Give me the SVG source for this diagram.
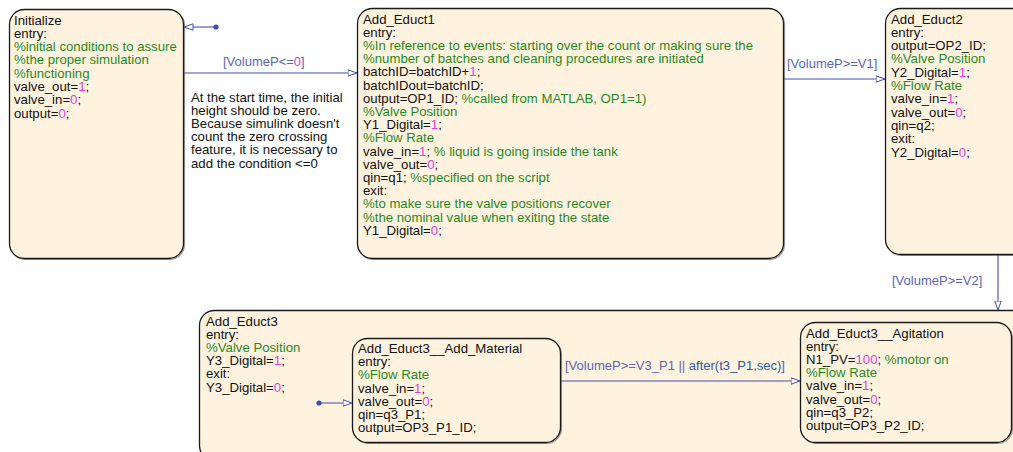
<svg xmlns="http://www.w3.org/2000/svg" width="1013" height="452" viewBox="0 0 1013 452">
  <defs>
    <style>
      .state { fill: #fff3e0; stroke: #1a1a1a; stroke-width: 1.3; }
      .shadow { fill: none; stroke: #9a9a9a; stroke-width: 1.2; }
      .txt { font-family: "Liberation Sans", Arial, Helvetica, sans-serif; font-size: 13.2px; fill: #111111; }
      .c { fill: #1f8a1f; }
      .n { fill: #e040e0; }
      .lbl { font-family: "Liberation Sans", Arial, Helvetica, sans-serif; font-size: 13px; fill: #5a66b4; }
      .kw { fill: #2e5a98; }
      .wire { fill: none; stroke: #4150a8; stroke-width: 1.1; }
      .dot { fill: #3f4ea6; }
    </style>
    <marker id="arrow" viewBox="0 0 10 8" refX="9.5" refY="4" markerWidth="10" markerHeight="8" markerUnits="userSpaceOnUse" orient="auto">
      <path d="M0.5,0.8 L9.5,4 L0.5,7.2 Z" fill="#ffffff" stroke="#4150a8" stroke-width="1"/>
    </marker>
  </defs>

  <!-- superstate that holds the two substates -->
  <g id="add_educt3">
    <rect class="shadow" x="200.5" y="311.5" width="840" height="150" rx="15"/>
    <rect class="state" x="199.5" y="310.5" width="840" height="150" rx="15"/>
    <text class="txt">
      <tspan x="206" y="325.5">Add_Educt3</tspan>
      <tspan x="206" y="338.7">entry:</tspan>
      <tspan x="206" y="351.9" class="c">%Valve Position</tspan>
      <tspan x="206" y="365.1">Y3_Digital=<tspan class="n">1</tspan>;</tspan>
      <tspan x="206" y="378.3">exit:</tspan>
      <tspan x="206" y="391.5">Y3_Digital=<tspan class="n">0</tspan>;</tspan>
    </text>
  </g>

  <g id="initialize">
    <rect class="shadow" x="10.5" y="10.5" width="174" height="249" rx="15"/>
    <rect class="state" x="9.5" y="9.5" width="174" height="249" rx="15"/>
    <text class="txt">
      <tspan x="14" y="24.5">Initialize</tspan>
      <tspan x="14" y="37.8">entry:</tspan>
      <tspan x="14" y="51.1" class="c">%initial conditions to assure</tspan>
      <tspan x="14" y="64.4" class="c">%the proper simulation</tspan>
      <tspan x="14" y="77.7" class="c">%functioning</tspan>
      <tspan x="14" y="91">valve_out=<tspan class="n">1</tspan>;</tspan>
      <tspan x="14" y="104.3">valve_in=<tspan class="n">0</tspan>;</tspan>
      <tspan x="14" y="117.6">output=<tspan class="n">0</tspan>;</tspan>
    </text>
  </g>

  <g id="add_educt1">
    <rect class="shadow" x="358.5" y="9.5" width="426" height="250" rx="15"/>
    <rect class="state" x="357.5" y="8.5" width="426" height="250" rx="15"/>
    <text class="txt">
      <tspan x="363" y="23.5">Add_Educt1</tspan>
      <tspan x="363" y="36.7">entry:</tspan>
      <tspan x="363" y="49.9" class="c">%In reference to events: starting over the count or making sure the</tspan>
      <tspan x="363" y="63.1" class="c">%number of batches and cleaning procedures are initiated</tspan>
      <tspan x="363" y="76.3">batchID=batchID+<tspan class="n">1</tspan>;</tspan>
      <tspan x="363" y="89.5">batchIDout=batchID;</tspan>
      <tspan x="363" y="102.7">output=OP1_ID; <tspan class="c">%called from MATLAB, OP1=1)</tspan></tspan>
      <tspan x="363" y="115.9" class="c">%Valve Position</tspan>
      <tspan x="363" y="129.1">Y1_Digital=<tspan class="n">1</tspan>;</tspan>
      <tspan x="363" y="142.3" class="c">%Flow Rate</tspan>
      <tspan x="363" y="155.5">valve_in=<tspan class="n">1</tspan>; <tspan class="c">% liquid is going inside the tank</tspan></tspan>
      <tspan x="363" y="168.7">valve_out=<tspan class="n">0</tspan>;</tspan>
      <tspan x="363" y="181.9">qin=q1; <tspan class="c">%specified on the script</tspan></tspan>
      <tspan x="363" y="195.1">exit:</tspan>
      <tspan x="363" y="208.3" class="c">%to make sure the valve positions recover</tspan>
      <tspan x="363" y="221.5" class="c">%the nominal value when exiting the state</tspan>
      <tspan x="363" y="234.7">Y1_Digital=<tspan class="n">0</tspan>;</tspan>
    </text>
  </g>

  <g id="add_educt2">
    <rect class="shadow" x="886.5" y="9.5" width="150" height="246" rx="15"/>
    <rect class="state" x="885.5" y="8.5" width="150" height="246" rx="15"/>
    <text class="txt">
      <tspan x="891" y="23.5">Add_Educt2</tspan>
      <tspan x="891" y="36.8">entry:</tspan>
      <tspan x="891" y="50.1">output=OP2_ID;</tspan>
      <tspan x="891" y="63.4" class="c">%Valve Position</tspan>
      <tspan x="891" y="76.7">Y2_Digital=<tspan class="n">1</tspan>;</tspan>
      <tspan x="891" y="90" class="c">%Flow Rate</tspan>
      <tspan x="891" y="103.3">valve_in=<tspan class="n">1</tspan>;</tspan>
      <tspan x="891" y="116.6">valve_out=<tspan class="n">0</tspan>;</tspan>
      <tspan x="891" y="129.9">qin=q2;</tspan>
      <tspan x="891" y="143.2">exit:</tspan>
      <tspan x="891" y="156.5">Y2_Digital=<tspan class="n">0</tspan>;</tspan>
    </text>
  </g>

  <g id="add_educt3_add_material">
    <rect class="shadow" x="353.5" y="339.5" width="208" height="104" rx="15"/>
    <rect class="state" x="352.5" y="338.5" width="208" height="104" rx="15"/>
    <text class="txt">
      <tspan x="358" y="353">Add_Educt3__Add_Material</tspan>
      <tspan x="358" y="366.2">entry:</tspan>
      <tspan x="358" y="379.4" class="c">%Flow Rate</tspan>
      <tspan x="358" y="392.6">valve_in=<tspan class="n">1</tspan>;</tspan>
      <tspan x="358" y="405.8">valve_out=<tspan class="n">0</tspan>;</tspan>
      <tspan x="358" y="419">qin=q3_P1;</tspan>
      <tspan x="358" y="432.2">output=OP3_P1_ID;</tspan>
    </text>
  </g>

  <g id="add_educt3_agitation">
    <rect class="shadow" x="801.5" y="323.5" width="211" height="120" rx="15"/>
    <rect class="state" x="800.5" y="322.5" width="211" height="120" rx="15"/>
    <text class="txt">
      <tspan x="806" y="337.5">Add_Educt3__Agitation</tspan>
      <tspan x="806" y="350.7">entry:</tspan>
      <tspan x="806" y="363.9">N1_PV=<tspan class="n">100</tspan>; <tspan class="c">%motor on</tspan></tspan>
      <tspan x="806" y="377.1" class="c">%Flow Rate</tspan>
      <tspan x="806" y="390.3">valve_in=<tspan class="n">1</tspan>;</tspan>
      <tspan x="806" y="403.5">valve_out=<tspan class="n">0</tspan>;</tspan>
      <tspan x="806" y="416.7">qin=q3_P2;</tspan>
      <tspan x="806" y="429.9">output=OP3_P2_ID;</tspan>
    </text>
  </g>

  <!-- free annotation next to the first transition -->
  <g id="note">
    <text class="txt">
      <tspan x="191" y="101.5">At the start time, the initial</tspan>
      <tspan x="191" y="114.7">height should be zero.</tspan>
      <tspan x="191" y="127.9">Because simulink doesn't</tspan>
      <tspan x="191" y="141.1">count the zero crossing</tspan>
      <tspan x="191" y="154.3">feature, it is necessary to</tspan>
      <tspan x="191" y="167.5">add the condition &lt;=0</tspan>
    </text>
  </g>

  <g id="connectors">
    <!-- default transition into Initialize -->
    <circle class="dot" cx="216" cy="27" r="2.6"/>
    <path class="wire" d="M216,27 H184" marker-end="url(#arrow)"/>

    <!-- Initialize -> Add_Educt1 -->
    <path class="wire" d="M184,73 H357" marker-end="url(#arrow)"/>
    <text class="lbl" x="223" y="66">[VolumeP&lt;=<tspan class="n">0</tspan>]</text>

    <!-- Add_Educt1 -> Add_Educt2 -->
    <path class="wire" d="M784,79 H885" marker-end="url(#arrow)"/>
    <text class="lbl" x="787" y="68">[VolumeP&gt;=V1]</text>

    <!-- Add_Educt2 -> Add_Educt3 -->
    <path class="wire" d="M998,255 V310" marker-end="url(#arrow)"/>
    <text class="lbl" x="892" y="285">[VolumeP&gt;=V2]</text>

    <!-- default transition into Add_Material -->
    <circle class="dot" cx="319" cy="403" r="2.6"/>
    <path class="wire" d="M319,403 H352" marker-end="url(#arrow)"/>

    <!-- Add_Material -> Agitation -->
    <path class="wire" d="M561,381 H800" marker-end="url(#arrow)"/>
    <text class="lbl" x="565" y="370">[VolumeP&gt;=V3_P1 || <tspan class="kw">after(t3_P1,sec)</tspan>]</text>
  </g>
</svg>
